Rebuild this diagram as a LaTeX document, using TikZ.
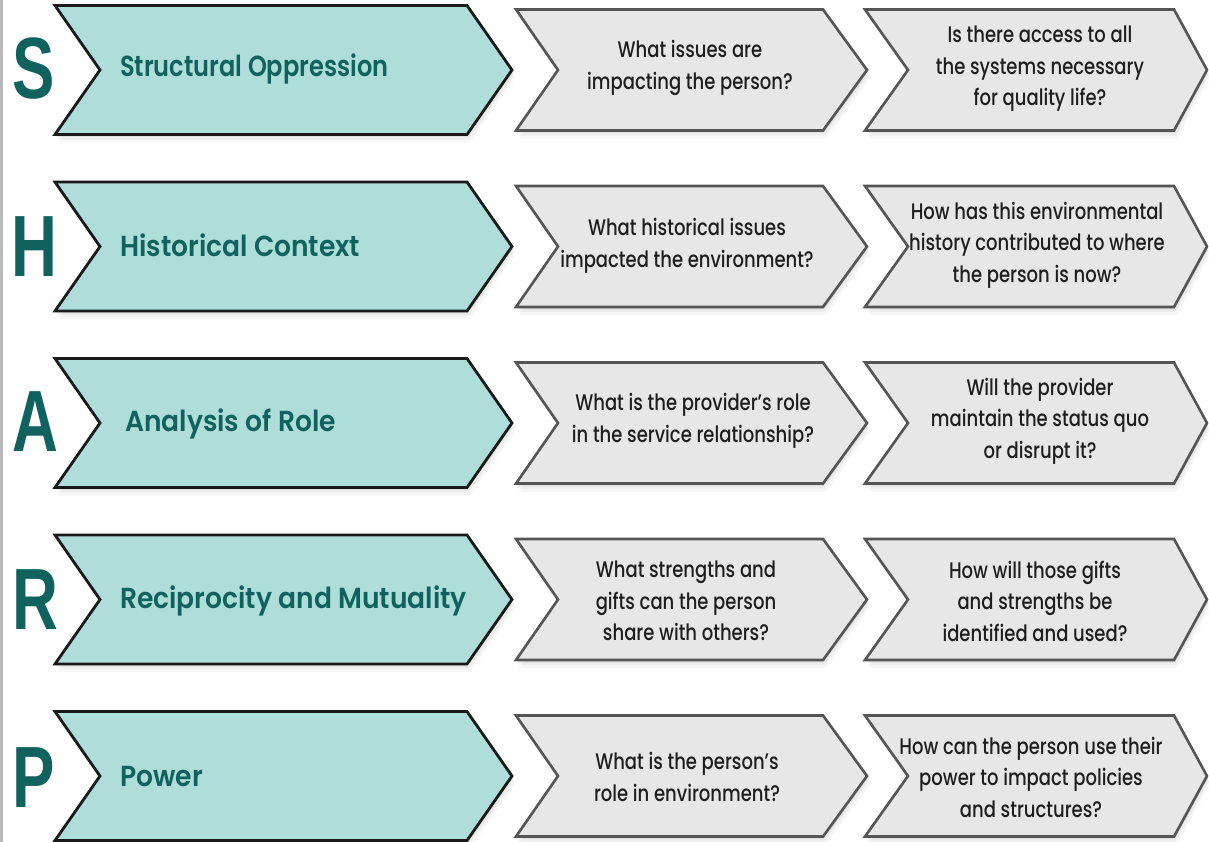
\documentclass[tikz,border=0pt]{standalone}
\usepackage{fontspec}
\newfontfamily\qfont[FakeStretch=0.80]{Poppins Medium}
\newfontfamily\lfont[FakeStretch=0.915]{Poppins SemiBold}
\newfontfamily\lfontS[FakeStretch=0.83]{Poppins SemiBold}
\newfontfamily\Lfont[FakeStretch=0.73]{Liberation Sans}
\definecolor{tealfill}{HTML}{AEDDDA}
\definecolor{tealdark}{HTML}{0F625E}
\definecolor{greyfill}{HTML}{E7E7E7}
\definecolor{greyline}{HTML}{555555}
\definecolor{textdark}{HTML}{1E1E1E}
% #1 style, #2 x1, #3 x2, #4 yc, #5 h, #6 left notch depth, #7 tip depth
\newcommand\chev[7]{%
  \foreach \s/\o in {8/0.03,5/0.04,2.5/0.05}{%
    \fill[black,opacity=\o,xshift=0.4*\s pt,yshift=-\s pt]
      (#2,#4-#5) -- (#3-#7,#4-#5) -- (#3,#4) -- (#3-#7,#4+#5) -- (#2,#4+#5) -- (#2+#6,#4) -- cycle;}
  \path[#1] (#2,#4-#5) -- (#3-#7,#4-#5) -- (#3,#4) -- (#3-#7,#4+#5) -- (#2,#4+#5) -- (#2+#6,#4) -- cycle;}
\tikzset{
  tealbox/.style={fill=tealfill,draw=black!90,line width=2.8pt,line join=miter},
  greybox/.style={fill=greyfill,draw=greyline,line width=2.6pt,line join=miter},
  bigletter/.style={font=\Lfont\bfseries\fontsize{87}{87}\selectfont,text=tealdark,inner sep=0pt,anchor=center},
  lbl/.style={font=\lfont\fontsize{29}{34}\selectfont,text=tealdark,inner sep=0pt,anchor=base west},
  qtext/.style={font=\qfont\fontsize{22.5}{31.5}\selectfont,text=textdark,align=center,inner sep=0pt,anchor=center}
}
\begin{document}
\begin{tikzpicture}[x=1pt,y=-1pt]
\useasboundingbox (0,0) rectangle (1209,842);
\fill[white] (0,0) rectangle (1209,842);
\fill[black!28] (0,0) rectangle (3,842);

\foreach \yc in {70,246.5,423,599.5,776}{%
  \chev{tealbox}{55}{512}{\yc}{64.5}{45}{45}
  \chev{greybox}{516}{867}{\yc}{60.5}{42}{44}
  \chev{greybox}{865}{1207}{\yc}{60.5}{43}{33}
}

% Row S
\node[bigletter] (bS) at (34,69) {S};
\node[lbl,font=\lfontS\fontsize{29}{34}\selectfont] (lS) at (120,77) {Structural Oppression};
\node[qtext] (qS1) at (690,68) {What issues are\\impacting the person?};
\node[qtext] (qS2) at (1040,69) {Is there access to all\\the systems necessary\\for quality life?};

% Row H
\node[bigletter] (bH) at (34,247) {H};
\node[lbl] (lH) at (120,256) {Historical Context};
\node[qtext] (qH1) at (687,246) {What historical issues\\impacted the environment?};
\node[qtext] (qH2) at (1037,245) {How has this environmental\\history contributed to where\\the person is now?};

% Row A
\node[bigletter] (bA) at (35,422) {A};
\node[lbl] (lA) at (125,431) {Analysis of Role};
\node[qtext] (qA1) at (693,421) {What is the provider’s role\\in the service relationship?};
\node[qtext] (qA2) at (1040,421) {Will the provider\\maintain the status quo\\or disrupt it?};

% Row R
\node[bigletter] (bR) at (35,600) {R};
\node[lbl] (lR) at (120,608) {Reciprocity and Mutuality};
\node[qtext] (qR1) at (686,601) {What strengths and\\gifts can the person\\share with others?};
\node[qtext] (qR2) at (1035,601) {How will those gifts\\and strengths be\\identified and used?};

% Row P
\node[bigletter] (bP) at (34,778) {P};
\node[lbl] (lP) at (120,786) {Power};
\node[qtext] (qP1) at (687,777) {What is the person’s\\role in environment?};
\node[qtext] (qP2) at (1031,777) {How can the person use their\\power to impact policies\\and structures?};
\end{tikzpicture}
\end{document}
